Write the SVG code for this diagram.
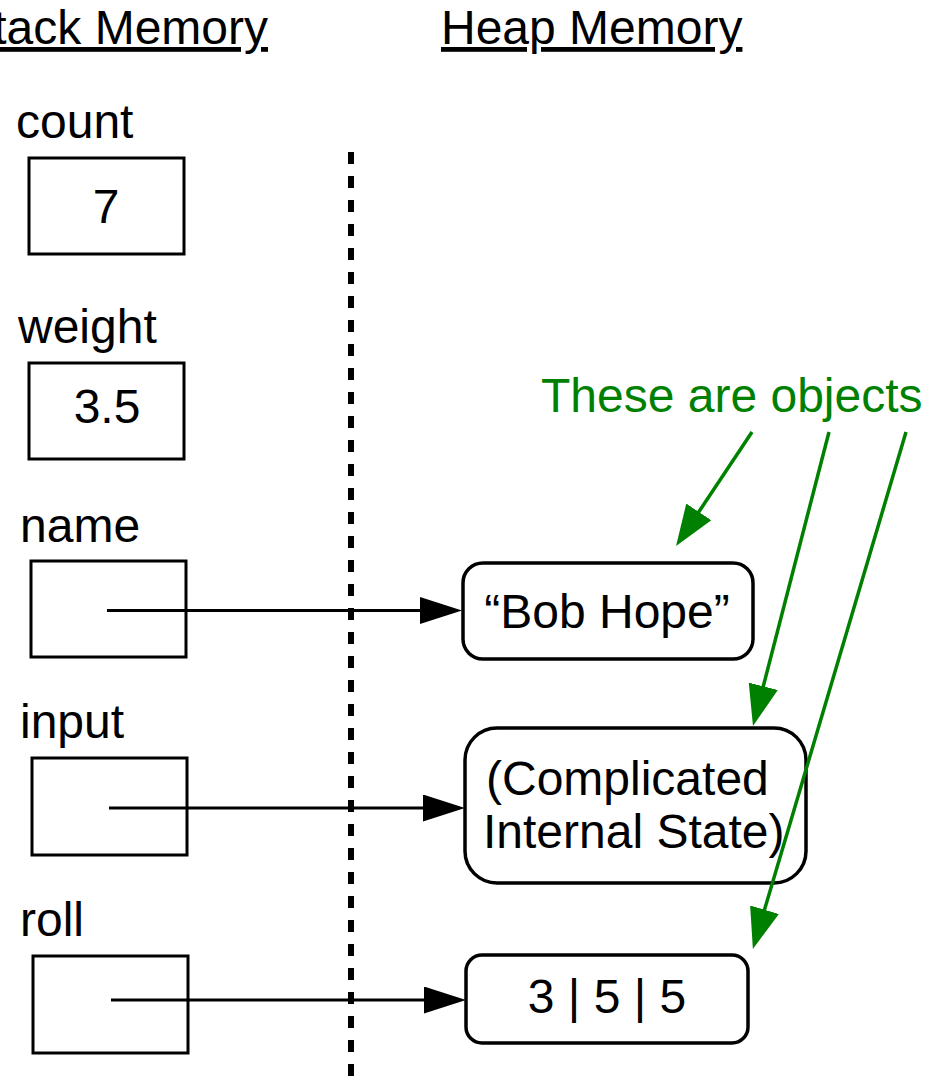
<svg xmlns="http://www.w3.org/2000/svg" width="942" height="1077" viewBox="0 0 942 1077">
<style>
text{font-family:"Liberation Sans",Arial,sans-serif;font-size:48px;fill:#000}
.title{text-decoration:underline}
.green{fill:#008000}
.mid{text-anchor:middle}
.var{fill:#fff;stroke:#000;stroke-width:3}
.obj{fill:#fff;stroke:#000;stroke-width:3.5}
.ref{stroke:#000;stroke-width:3;fill:none}
.note{stroke:#008000;stroke-width:3.5;fill:none}
</style>
<defs>
<marker id="ah" markerUnits="userSpaceOnUse" markerWidth="44" markerHeight="28" refX="32" refY="13.5" orient="auto" viewBox="0 0 44 28">
<path d="M0,0 L42,13.5 L0,27 z" fill="#000"/>
</marker>
<marker id="gh" markerUnits="userSpaceOnUse" markerWidth="44" markerHeight="32" refX="31" refY="15" orient="auto" viewBox="0 0 44 32">
<path d="M0,0 L41,15 L0,30 z" fill="#008000"/>
</marker>
</defs>
<rect width="942" height="1077" fill="#fff"/>
<g id="titles">
<text class="title" x="268" y="44" text-anchor="end">Stack Memory</text>
<text class="title" x="441" y="44">Heap Memory</text>
</g>
<line id="divider" x1="351" y1="152" x2="351" y2="1077" stroke="#000" stroke-width="6" stroke-dasharray="12 12"/>
<g id="var-count">
<text x="16" y="138">count</text>
<rect class="var" x="29" y="158" width="155" height="96"/>
<text class="mid" x="106" y="223">7</text>
</g>
<g id="var-weight">
<text x="18" y="343">weight</text>
<rect class="var" x="29" y="363" width="155" height="96"/>
<text class="mid" x="107" y="423">3.5</text>
</g>
<g id="var-name">
<text x="20" y="542">name</text>
<rect class="var" x="31" y="561" width="155" height="96"/>
</g>
<g id="var-input">
<text x="20" y="738">input</text>
<rect class="var" x="32" y="758" width="155" height="97"/>
</g>
<g id="var-roll">
<text x="20" y="936">roll</text>
<rect class="var" x="33" y="956" width="155" height="97"/>
</g>
<g id="obj-bobhope">
<rect class="obj" x="463" y="563" width="290" height="96" rx="20" ry="20"/>
<text class="mid" x="607" y="628">“Bob Hope”</text>
</g>
<g id="obj-input">
<rect class="obj" x="465" y="728" width="341" height="155" rx="32" ry="32"/>
<text x="486" y="795">(Complicated</text>
<text x="483" y="848">Internal State)</text>
</g>
<g id="obj-roll">
<rect class="obj" x="466" y="955" width="282" height="88" rx="16" ry="16"/>
<text class="mid" x="607" y="1013">3 | 5 | 5</text>
</g>
<g id="note">
<text class="green" x="541" y="412">These are objects</text>
</g>
<g id="connectors">
<line class="ref" x1="107" y1="610.5" x2="452" y2="610.5" marker-end="url(#ah)"/>
<line class="ref" x1="109" y1="808" x2="455" y2="808" marker-end="url(#ah)"/>
<line class="ref" x1="111" y1="1000" x2="456" y2="1000" marker-end="url(#ah)"/>
<line class="note" x1="752" y1="432" x2="681.6" y2="537.7" marker-end="url(#gh)"/>
<line class="note" x1="829" y1="432" x2="755.5" y2="716.3" marker-end="url(#gh)"/>
<line class="note" x1="906" y1="432" x2="755.7" y2="939.4" marker-end="url(#gh)"/>
</g>
</svg>
